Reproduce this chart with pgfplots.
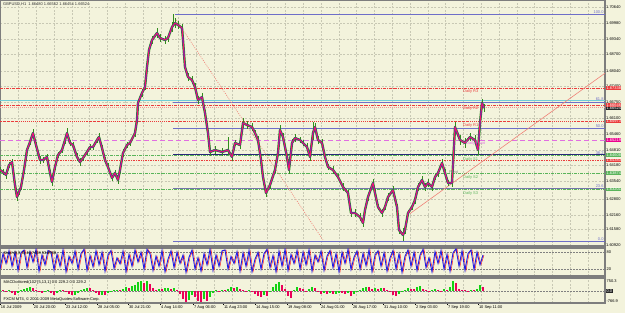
\documentclass[border=0pt]{standalone}
\usepackage{pgfplots}
\pgfplotsset{compat=1.18}
\usepackage{pgfplotstable}
\usepackage{fontspec}
\setmainfont{Liberation Sans}
\definecolor{bg}{RGB}{243,243,220}
\definecolor{gridc}{RGB}{200,200,180}
\definecolor{framec}{RGB}{125,125,125}
\definecolor{fibc}{RGB}{110,110,200}
\definecolor{navyc}{RGB}{40,40,120}
\definecolor{rline}{RGB}{235,60,60}
\definecolor{pinkl}{RGB}{240,150,150}
\definecolor{magl}{RGB}{225,110,225}
\definecolor{greenl}{RGB}{90,180,90}
\definecolor{cyanl}{RGB}{110,205,215}
\definecolor{barg}{RGB}{50,140,30}
\definecolor{mal}{RGB}{240,20,110}
\definecolor{bluel}{RGB}{30,30,230}
\definecolor{salmon}{RGB}{240,130,120}
\definecolor{macdg}{RGB}{20,210,20}
\definecolor{macdr}{RGB}{235,0,90}
\newcommand{\tf}{\fontsize{4}{4.5}\selectfont}

\pgfplotstableread{
x p e
0 1.63996 0.0013
3 1.63915 0.0013
6 1.63792 0.0016
9 1.64200 0.0013
12 1.64322 0.0013
15 1.63385 0.0018
17 1.62896 0.0016
19 1.63099 0.0013
21 1.63303 0.0013
24 1.63996 0.0016
27 1.64811 0.0013
30 1.65137 0.0013
33 1.65504 0.0016
36 1.65015 0.0013
40 1.64404 0.0016
43 1.64404 0.0013
47 1.64526 0.0013
50 1.63874 0.0013
52 1.63507 0.0018
55 1.64118 0.0013
58 1.64608 0.0013
62 1.64811 0.0013
65 1.65219 0.0016
67 1.65504 0.0020
70 1.65097 0.0013
73 1.65015 0.0013
77 1.64526 0.0016
80 1.64322 0.0016
83 1.64485 0.0013
87 1.64730 0.0013
90 1.64934 0.0013
93 1.64934 0.0013
97 1.65219 0.0013
99 1.65341 0.0018
102 1.64893 0.0013
105 1.64404 0.0013
108 1.64118 0.0016
112 1.63670 0.0013
115 1.63874 0.0013
118 1.63589 0.0016
120 1.63996 0.0013
123 1.64689 0.0016
127 1.65015 0.0013
130 1.65097 0.0013
135 1.65504 0.0016
137 1.66034 0.0013
138 1.66727 0.0013
142 1.67135 0.0018
145 1.67379 0.0013
147 1.68194 0.0016
149 1.68887 0.0013
152 1.69295 0.0018
157 1.69580 0.0020
160 1.69376 0.0016
165 1.69295 0.0018
168 1.69376 0.0016
172 1.69825 0.0020
175 1.69988 0.0020
178 1.69906 0.0018
182 1.69784 0.0016
183 1.69295 0.0013
185 1.68194 0.0016
188 1.67787 0.0018
192 1.67664 0.0016
195 1.67379 0.0018
198 1.66849 0.0016
202 1.66972 0.0018
205 1.66319 0.0013
208 1.65504 0.0013
210 1.64730 0.0016
215 1.64811 0.0018
222 1.64730 0.0016
228 1.64811 0.0018
232 1.64526 0.0016
235 1.65097 0.0013
240 1.65015 0.0018
243 1.65912 0.0020
247 1.65830 0.0016
252 1.65749 0.0016
255 1.65504 0.0013
258 1.65219 0.0016
261 1.64404 0.0013
263 1.63711 0.0013
266 1.63059 0.0018
270 1.63385 0.0016
275 1.63996 0.0013
278 1.64689 0.0013
280 1.65627 0.0020
283 1.65341 0.0016
287 1.64526 0.0013
289 1.63996 0.0018
292 1.65097 0.0016
295 1.65300 0.0016
300 1.65219 0.0013
303 1.65097 0.0013
307 1.64934 0.0016
310 1.64526 0.0016
313 1.65504 0.0022
315 1.65749 0.0018
318 1.65219 0.0016
322 1.65097 0.0016
325 1.64526 0.0013
328 1.64118 0.0013
333 1.63996 0.0016
338 1.63711 0.0013
343 1.63303 0.0016
348 1.63059 0.0013
351 1.62243 0.0016
355 1.62243 0.0018
360 1.62080 0.0016
363 1.61836 0.0016
365 1.62366 0.0013
368 1.62896 0.0016
373 1.63466 0.0018
375 1.63059 0.0016
378 1.62488 0.0013
382 1.62243 0.0016
385 1.62488 0.0013
388 1.62896 0.0016
393 1.63181 0.0016
397 1.62488 0.0013
399 1.61551 0.0016
403 1.61347 0.0020
405 1.61551 0.0016
408 1.62243 0.0013
412 1.62488 0.0013
415 1.62773 0.0016
418 1.63303 0.0016
422 1.63589 0.0018
425 1.63303 0.0016
428 1.63466 0.0016
432 1.63303 0.0016
435 1.63711 0.0013
438 1.63874 0.0016
442 1.64281 0.0018
445 1.63874 0.0016
448 1.63466 0.0013
452 1.63466 0.0016
455 1.65749 0.0020
460 1.65219 0.0020
465 1.65097 0.0020
470 1.65341 0.0018
475 1.65219 0.0020
478 1.64811 0.0020
480 1.65912 0.0016
482 1.66727 0.0018
484 1.66523 0.0016
}\price

\pgfplotstableread{
x s
0 20
3 75
6 40
9 85
12 30
15 80
18 15
21 78
24 88
27 25
30 82
33 45
36 90
39 12
42 70
45 35
48 86
51 80
54 18
57 72
60 30
63 88
66 10
69 65
72 40
75 84
78 20
81 76
84 90
87 15
90 68
93 28
96 85
99 35
102 80
105 12
108 70
111 86
114 22
117 60
120 38
123 84
126 10
129 72
132 30
135 88
138 45
141 80
144 20
147 90
150 75
153 15
156 66
159 30
162 86
165 10
168 55
171 85
174 25
177 80
180 40
183 70
186 8
189 62
192 88
195 20
198 60
201 12
204 75
207 35
210 90
213 15
216 70
219 30
222 85
225 88
228 20
231 65
234 40
237 82
240 12
243 78
246 30
249 86
252 10
255 55
258 80
261 20
264 75
267 90
270 25
273 68
276 10
279 84
282 30
285 90
288 15
291 72
294 40
297 86
300 20
303 80
306 35
309 88
312 12
315 70
318 45
321 84
324 15
327 66
330 86
333 25
336 75
339 10
342 80
345 40
348 90
351 18
354 62
357 84
360 20
363 76
366 32
369 88
372 10
375 70
378 85
381 30
384 78
387 12
390 60
393 86
396 20
399 74
402 8
405 66
408 88
411 30
414 80
417 15
420 70
423 90
426 25
429 60
432 10
435 82
438 40
441 86
444 20
447 72
450 12
453 78
456 92
459 30
462 85
465 15
468 75
471 88
474 18
477 80
480 35
483 70
}\stoch

\pgfplotstableread{
x g r
0 73 nan
3 nan 37
6 nan -73
9 73 nan
12 nan -110
15 nan -292
18 -146 nan
21 37 nan
24 110 nan
27 219 nan
30 292 nan
33 nan 219
36 nan 73
39 nan -73
42 nan -110
45 -73 nan
48 37 nan
51 nan -146
54 nan -292
57 -110 nan
60 73 nan
63 nan 37
66 nan -73
69 nan -219
72 nan -292
75 -256 nan
78 -146 nan
81 37 nan
84 110 nan
87 219 nan
90 nan 183
93 nan 37
96 nan -146
99 nan -292
102 -256 nan
105 nan -292
108 -146 nan
111 -37 nan
114 37 nan
117 73 nan
120 nan 37
123 146 nan
126 292 nan
129 nan 219
132 329 nan
135 438 nan
138 657 nan
141 730 nan
144 nan 584
147 730 nan
150 nan 511
153 nan 219
156 nan 73
159 146 nan
162 nan 110
165 183 nan
168 219 nan
171 nan 110
174 219 nan
177 nan 73
180 nan -219
183 nan -584
186 nan -767
189 -657 nan
192 -292 nan
195 nan -438
198 nan -730
201 nan -767
204 -584 nan
207 nan -730
210 -438 nan
213 -146 nan
216 37 nan
219 nan -73
222 73 nan
225 nan 37
228 146 nan
231 292 nan
234 nan 219
237 292 nan
240 nan 146
243 nan 37
246 nan -37
249 73 nan
252 nan -73
255 nan -219
258 nan -365
261 nan -438
264 -292 nan
267 nan -365
270 -73 nan
273 292 nan
276 511 nan
279 657 nan
282 nan 438
285 nan 146
288 nan -365
291 nan -511
294 73 nan
297 292 nan
300 nan 219
303 nan 110
306 nan -73
309 110 nan
312 292 nan
315 nan 219
318 nan -73
321 nan -183
324 -146 nan
327 nan -219
330 -146 nan
333 nan -219
336 -183 nan
339 -110 nan
342 nan -146
345 nan -219
348 -146 nan
351 nan -365
354 -219 nan
357 -37 nan
360 73 nan
363 219 nan
366 292 nan
369 nan 256
372 nan 146
375 219 nan
378 nan 146
381 219 nan
384 nan 183
387 nan 73
390 nan -73
393 nan -292
396 nan -365
399 -219 nan
402 -73 nan
405 73 nan
408 219 nan
411 nan 146
414 nan 110
417 292 nan
420 365 nan
423 nan 146
426 nan 37
429 nan -73
432 73 nan
435 146 nan
438 nan 37
441 nan -73
444 110 nan
447 nan 73
450 292 nan
453 730 nan
456 nan 584
459 nan 146
462 nan 73
465 nan 37
468 nan -37
471 73 nan
474 nan 37
477 146 nan
480 438 nan
483 nan 292
}\macd

\begin{document}
\begin{tikzpicture}
\path[use as bounding box, fill=bg] (0,0) rectangle (625bp,-313bp);

% ---------- main price panel ----------
\begin{axis}[
  at={(0bp,0bp)}, anchor=north west, scale only axis,
  width=605bp, height=246bp,
  xmin=0, xmax=605, ymin=1.60898, ymax=1.70925,
  axis line style={framec, line width=1.2bp},
  xtick={18.4,36.2,...,588}, xticklabels={},
  ytick={1.60920,1.61580,1.62160,1.62800,1.63540,1.64180,1.64810,1.65460,1.66100,1.66750,1.67400,1.68040,1.68700,1.69340,1.69980,1.70640},
  yticklabels={1.60920,1.61580,1.62160,1.62800,1.63540,1.64180,1.64810,1.65460,1.66100,1.66750,1.67400,1.68040,1.68700,1.69340,1.69980,1.70640},
  yticklabel pos=right,
  yticklabel style={font=\tf, anchor=west, inner sep=0.5bp, xshift=0.5bp},
  major tick length=0pt,
  xmajorgrids, ymajorgrids,
  grid style={gridc, dash pattern=on 2bp off 1.5bp, line width=0.5bp},
]
% horizontal level lines
\addplot[fibc, line width=0.8bp] coordinates {(175,1.70355) (605,1.70355)};
\addplot[rline, line width=0.6bp, dash pattern=on 3bp off 1bp on 0.8bp off 1bp] coordinates {(0,1.67338) (605,1.67338)};
\addplot[cyanl, line width=1.4bp] coordinates {(0,1.66829) (605,1.66829)};
\addplot[fibc, line width=0.8bp] coordinates {(173,1.66768) (605,1.66768)};
\addplot[rline, line width=0.6bp, dash pattern=on 3bp off 1bp on 0.8bp off 1bp] coordinates {(0,1.66646) (605,1.66646)};
\addplot[pinkl, line width=0.6bp, dash pattern=on 1bp off 1bp] coordinates {(0,1.66564) (605,1.66564)};
\addplot[rline, line width=0.6bp, dash pattern=on 1.5bp off 1bp on 0.6bp off 1bp] coordinates {(0,1.65973) (605,1.65973)};
\addplot[fibc, line width=0.8bp] coordinates {(173,1.65708) (605,1.65708)};
\addplot[magl, line width=0.9bp, dash pattern=on 5bp off 3bp] coordinates {(0,1.65219) (605,1.65219)};
\addplot[greenl, line width=0.6bp, dash pattern=on 3bp off 1bp on 0.8bp off 1bp] coordinates {(0,1.64608) (605,1.64608)};
\addplot[navyc, line width=0.8bp] coordinates {(173,1.64628) (605,1.64628)};
\addplot[rline, line width=0.7bp, dash pattern=on 1bp off 0.7bp] coordinates {(0,1.64383) (605,1.64383)};
\addplot[greenl, line width=0.6bp, dash pattern=on 3bp off 1bp on 0.8bp off 1bp] coordinates {(0,1.63874) (605,1.63874)};
\addplot[fibc!60!gray, line width=1bp] coordinates {(173,1.63262) (605,1.63262)};
\addplot[greenl, line width=0.6bp, dash pattern=on 3bp off 1bp on 0.8bp off 1bp] coordinates {(0,1.63201) (605,1.63201)};
\addplot[fibc, line width=0.8bp] coordinates {(173,1.61102) (605,1.61102)};
% fibo base line and trend line
\addplot[salmon, line width=0.6bp, dash pattern=on 1bp off 1.2bp] coordinates {(175,1.70192) (323,1.61143)};
\addplot[salmon, line width=0.6bp] coordinates {(410,1.62219) (605,1.67942)};
% price: high-low bars, then averages
\addplot[draw=none, mark=none, error bars/.cd, y dir=both, y explicit,
  error mark=none, error bar style={draw=barg, line width=0.9bp, solid}]
  table[x=x, y=p, y error=e] {\price};
\addplot[barg, line width=2.4bp, line join=round] table[x=x, y=p] {\price};
\addplot[barg, line width=0.8bp] coordinates {(173,1.6985) (173,1.7036)};
\addplot[barg, line width=0.8bp] coordinates {(313,1.6520) (313,1.6595)};
\addplot[barg, line width=0.8bp] coordinates {(228,1.6460) (228,1.6535)};
\addplot[barg, line width=0.8bp] coordinates {(403,1.6110) (403,1.6165)};
\addplot[bluel, line width=1.3bp, line join=round] table[x=x, y=p] {\price};
\addplot[mal, line width=1bp, line join=round] table[x=x, y=p] {\price};
\end{axis}

% ---------- stochastic panel ----------
\begin{axis}[
  at={(0bp,-248bp)}, anchor=north west, scale only axis,
  width=605bp, height=28bp,
  xmin=0, xmax=605, ymin=-5, ymax=95,
  axis line style={framec, line width=1.2bp},
  xtick={18.4,36.2,...,588}, xticklabels={},
  ytick={20,80}, yticklabels={},
  major tick length=0pt,
  xmajorgrids, ymajorgrids,
  x grid style={gridc, dash pattern=on 2bp off 1.5bp, line width=0.5bp},
  y grid style={gray, dash pattern=on 1.5bp off 1.5bp, line width=0.5bp},
]
\addplot[red, line width=0.4bp] table[x expr=\thisrow{x}+1, y=s] {\stoch};
\addplot[bluel, line width=0.9bp] table[x=x, y=s] {\stoch};
\end{axis}

% ---------- MACD panel ----------
\begin{axis}[
  at={(0bp,-278bp)}, anchor=north west, scale only axis,
  width=605bp, height=25bp,
  xmin=0, xmax=605, ymin=-874, ymax=946,
  axis line style={framec, line width=1.2bp},
  xtick={0,33,65,97,128,160,193,223,255,287,320,352,383,415,447,478},
  xticklabels={16 Jul 2009,20 Jul 20:00,23 Jul 12:00,28 Jul 05:00,30 Jul 21:00,4 Aug 14:00,7 Aug 06:00,11 Aug 23:00,14 Aug 15:00,19 Aug 08:00,24 Aug 01:00,26 Aug 17:00,31 Aug 10:00,2 Sep 03:00,7 Sep 19:00,10 Sep 11:00},
  xtick pos=bottom, tick align=outside,
  xtick style={black, line width=0.5bp},
  major tick length=2bp,
  xticklabel style={font=\tf, anchor=north west, inner sep=0.5bp, xshift=0.3bp},
  minor xtick={18.4,36.2,...,588}, minor tick length=0pt,
  xminorgrids,
  minor x grid style={gridc, dash pattern=on 2bp off 1.5bp, line width=0.5bp},
  ytick={0}, yticklabels={}, ytick style={draw=none},
  ymajorgrids,
  y grid style={gray, dash pattern=on 1.5bp off 1.5bp, line width=0.5bp},
]
\addplot[macdg, ycomb, line width=2.2bp] table[x=x, y=g] {\macd};
\addplot[macdr, ycomb, line width=2.2bp] table[x=x, y=r] {\macd};
\end{axis}

% ---------- texts ----------
\node[font=\tf, anchor=west, inner sep=0pt, text=black!80] at (3bp,-4.5bp) {GBPUSD,H1\ \ 1.66480 1.66552 1.66454 1.66524};
\begin{scope}[every node/.style={font=\tf, anchor=north west, inner sep=0pt}]
\node[text=rline] at (463bp,-89.5bp) {Daily R3};
\node[text=rline] at (463bp,-106.5bp) {Daily R2};
\node[text=rline] at (463bp,-123bp) {Daily R1};
\node[text=magl] at (466bp,-141bp) {Daily Pivot};
\node[text=greenl] at (463bp,-157bp) {Daily S1};
\node[text=greenl] at (463bp,-175bp) {Daily S2};
\node[text=greenl] at (463bp,-191bp) {Daily S3};
\node[text=gray] at (449bp,-170.5bp) {Pivot};
\end{scope}
\begin{scope}[every node/.style={font=\tf, anchor=south east, inner sep=0.3bp, text=fibc}]
\node at (604bp,-14.5bp) {100.0};
\node at (604bp,-101.5bp) {61.8};
\node at (604bp,-128.5bp) {50.0};
\node at (604bp,-155bp) {38.2};
\node at (604bp,-188.5bp) {23.6};
\node at (604bp,-241.5bp) {0.0};
\end{scope}
\begin{scope}[every node/.style={font=\tf, anchor=west, inner sep=0.4bp, text=white}]
\node[fill=rline] at (606bp,-88bp) {1.67338};
\node[fill=rline] at (606bp,-105bp) {1.66646};
\node[fill=black!85] at (606bp,-108.5bp) {1.66524};
\node[fill=rline] at (606bp,-121.5bp) {1.65973};
\node[fill=magenta] at (606bp,-140bp) {1.65219};
\node[fill=greenl] at (606bp,-155bp) {1.64608};
\node[fill=rline] at (606bp,-160.5bp) {1.64383};
\node[fill=greenl] at (606bp,-173bp) {1.63874};
\node[fill=greenl] at (606bp,-189.5bp) {1.63201};
\node[fill=black!85] at (606bp,-291bp) {0.0};
\end{scope}
\begin{scope}[every node/.style={font=\tf, anchor=west, inner sep=0.4bp, text=black}]
\node at (606bp,-252.5bp) {80};
\node at (606bp,-269bp) {20};
\node at (606bp,-281bp) {750.3};
\node at (606bp,-301bp) {-766.9};
\node at (3bp,-253bp) {Stoch(5,3,3) 48.7408 53.8908};
\node at (3bp,-282.5bp) {MACDcolored(102 [5,13,1] 0.0 229.2 0.0 229.2};
\node at (3bp,-299.5bp) {FXCM MT4, © 2001-2009 MetaQuotes Software Corp.};
\end{scope}
\end{tikzpicture}
\end{document}
